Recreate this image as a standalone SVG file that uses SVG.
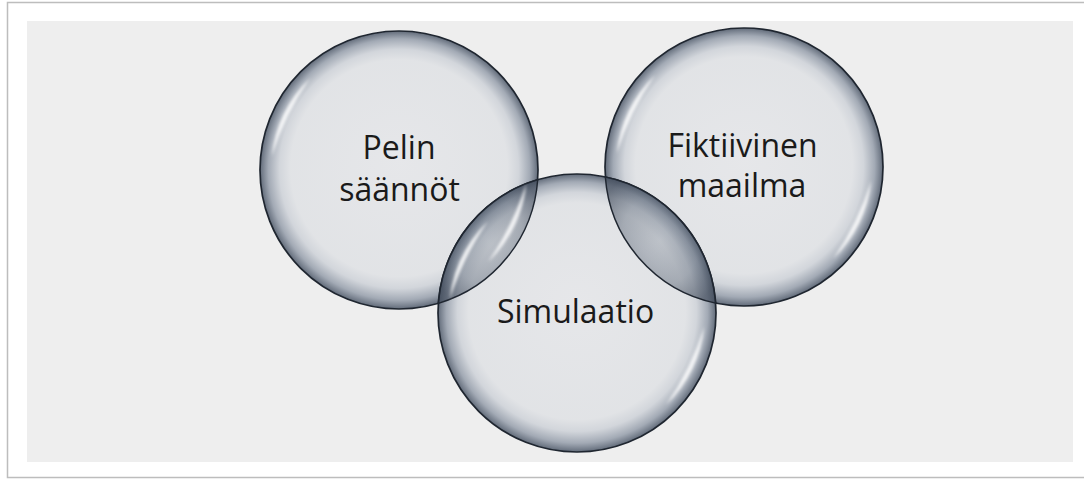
<svg xmlns="http://www.w3.org/2000/svg" width="1084" height="479" viewBox="0 0 1084 479">
  <defs>
    <radialGradient id="glass" cx="0.5" cy="0.5" r="0.5" fx="0.5" fy="0.47">
      <stop offset="0" stop-color="#e5e6e9" stop-opacity="0.9"/>
      <stop offset="0.78" stop-color="#e0e2e5" stop-opacity="0.9"/>
      <stop offset="0.86" stop-color="#cfd3d9" stop-opacity="0.9"/>
      <stop offset="0.94" stop-color="#9ca4b0" stop-opacity="0.92"/>
      <stop offset="1" stop-color="#5a6473" stop-opacity="0.95"/>
    </radialGradient>
    <radialGradient id="lensfill" cx="0.5" cy="0.5" r="0.6">
      <stop offset="0" stop-color="#5b6778" stop-opacity="0.26"/>
      <stop offset="0.6" stop-color="#4f5b6c" stop-opacity="0.38"/>
      <stop offset="1" stop-color="#3a4454" stop-opacity="0.6"/>
    </radialGradient>
    <filter id="soft" x="-20%" y="-20%" width="140%" height="140%">
      <feGaussianBlur stdDeviation="1.4"/>
    </filter>
    <path id="hl" d="M-127.30,-13.38 A128,128 0 0 1 -88.92,-92.08 A300,300 0 0 0 -127.30,-13.38 Z"/>
  </defs>
  <style>
    .frame { fill: #ffffff; stroke: #bdbdbd; stroke-width: 1.5; }
    .panel { fill: #eeeeee; }
    .bubble { fill: url(#glass); stroke: #1f2630; stroke-width: 1.7; }
    .lens { fill: url(#lensfill); stroke: #1f2630; stroke-width: 1.4; }
    .shine { fill: #ffffff; opacity: 0.85; filter: url(#soft); }
    .label { font-family: "Open Sans", "Noto Sans", "DejaVu Sans", sans-serif; font-size: 32px; fill: #1a1a1a; text-anchor: middle; }
  </style>

  <rect class="frame" x="7.5" y="2.5" width="1090" height="475"/>
  <rect class="panel" x="27" y="21" width="1046" height="441"/>

  <g id="node-pelin-saannot">
    <circle class="bubble" cx="399" cy="170" r="139"/>
  </g>
  <g id="node-fiktiivinen-maailma">
    <circle class="bubble" cx="744" cy="167" r="139"/>
  </g>
  <g id="node-simulaatio">
    <circle class="bubble" cx="577" cy="313" r="139"/>
  </g>

  <g id="overlaps">
    <path class="lens" d="M537.67,179.68 A139,139 0 0 1 438.33,303.32 A139,139 0 0 1 537.67,179.68 Z"/>
    <path class="lens" d="M605.35,176.92 A139,139 0 0 1 715.65,303.08 A139,139 0 0 1 605.35,176.92 Z"/>
  </g>

  <g id="highlights">
    <use href="#hl" class="shine" transform="translate(399,170)"/>
    <use href="#hl" class="shine" transform="translate(399,170) rotate(180)"/>
    <use href="#hl" class="shine" transform="translate(744,167)"/>
    <use href="#hl" class="shine" transform="translate(744,167) rotate(180)"/>
    <use href="#hl" class="shine" transform="translate(577,313)"/>
    <use href="#hl" class="shine" transform="translate(577,313) rotate(180)"/>
  </g>

  <g id="labels">
    <text class="label" x="399" y="159">Pelin</text>
    <text class="label" x="399.5" y="201">säännöt</text>
    <text class="label" x="742.5" y="157">Fiktiivinen</text>
    <text class="label" x="742" y="197">maailma</text>
    <text class="label" x="575.5" y="323">Simulaatio</text>
  </g>

  <g id="connectors"/>
</svg>
